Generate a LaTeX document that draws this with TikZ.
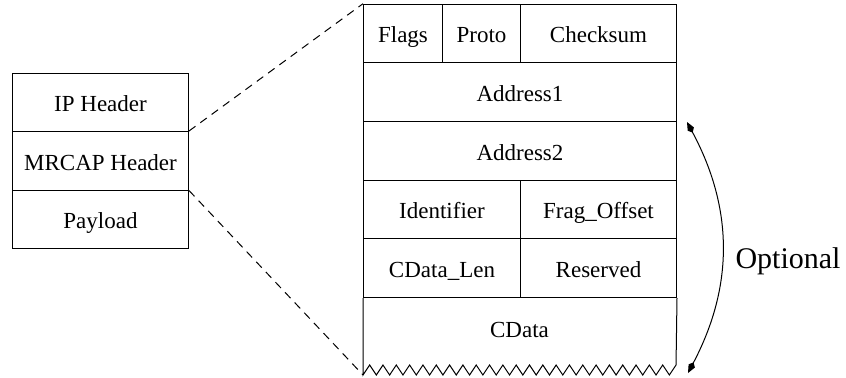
\documentclass[tikz,border=0pt]{standalone}
\usepackage{fontspec}
\setmainfont{Liberation Serif}
\usetikzlibrary{calc, arrows.meta}

\tikzset{
  field/.style={draw, rectangle, inner sep=0pt, anchor=south west,
    minimum height=29.33pt, text height=9.4pt, text depth=0pt,
    font=\fontsize{11.5}{13}\selectfont},
  pkt/.style={field, minimum width=88pt, minimum height=29.25pt},
  kitetip/.tip={Kite[length=6pt, width=3.5pt, inset=2pt]},
}

\begin{document}
\begin{tikzpicture}[x=0.5pt, y=0.5pt, line width=0.5pt]
\useasboundingbox (0,0) rectangle (846,377);
% packet
\node[pkt] (payload) at (12,128) {Payload};
\node[pkt] (mrcap) at (12,186.5) {MRCAP Header};
\node[pkt] (ip) at (12,245) {IP Header};
% header fields
\node[field, minimum width=39.5pt] (flags) at (363,313.64) {Flags};
\node[field, minimum width=39pt] (proto) at (442,313.64) {Proto};
\node[field, minimum width=78pt] (checksum) at (520,313.64) {Checksum};
\node[field, minimum width=156.5pt] (addr1) at (363,254.98) {Address1};
\node[field, minimum width=156.5pt] (addr2) at (363,196.32) {Address2};
\node[field, minimum width=78.5pt] (ident) at (363,137.66) {Identifier};
\node[field, minimum width=78pt] (frag) at (520,137.66) {Frag\_Offset};
\node[field, minimum width=78.5pt] (cdlen) at (363,79) {CData\_Len};
\node[field, minimum width=78pt] (resv) at (520,79) {Reserved};
% open-ended data part
\coordinate (cbl) at (363,2);
\draw (cdlen.south west) -- (cbl)
  \foreach \k in {1,...,47} { -- ({363+6.66*\k}, {7-5*cos(180*\k)}) }
  -- (resv.south east);
\node[anchor=base, font=\fontsize{11.5}{13}\selectfont] (cdata) at (519.5,40) {CData};
% zoom lines
\draw[dash pattern=on 4pt off 3pt] (mrcap.north east) -- (flags.north west);
\draw[dash pattern=on 4pt off 3pt] (mrcap.south east) -- (cbl);
% optional part
\coordinate (otop) at (687,255);
\coordinate (obot) at (688,4);
\draw[kitetip-kitetip] (otop) to[bend left=28] (obot);
\node[anchor=base, font=\fontsize{15}{17}\selectfont] (opt) at (788,109) {Optional};
\end{tikzpicture}
\end{document}
